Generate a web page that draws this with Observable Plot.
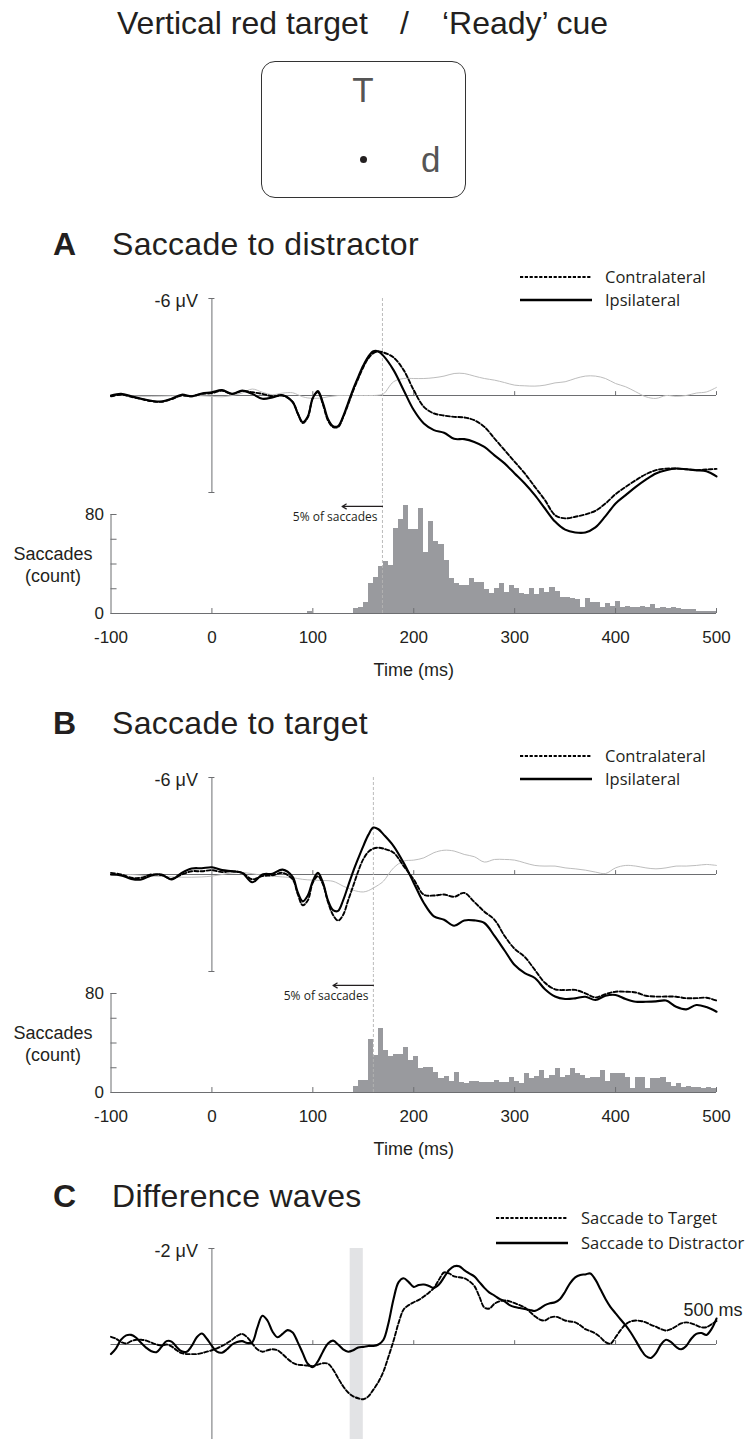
<!DOCTYPE html>
<html><head><meta charset="utf-8">
<script src="https://cdn.jsdelivr.net/npm/d3@7"></script>
<script src="https://cdn.jsdelivr.net/npm/@observablehq/plot@0.6"></script>
<style>
body{margin:0;background:#fff;overflow:hidden;}
#page{position:relative;width:750px;height:1439px;overflow:hidden;background:#fff;}
</style></head><body><div id="page"></div>
<script>
// ---------------- DATA ----------------
const xTicks = [-100, 0, 100, 200, 300, 400, 500];
const zeroAxisTicks = [100, 200, 300, 400, 500];
const countTicks = [0, 20, 40, 60, 80];
const countLabels = [0, 80];
const spanAB = 6, spanC = 2;
const fivePctA = 169, fivePctB = 160, arrowSpan = 40;
const bandC = [137, 150];
const legendAB = ["Contralateral", "Ipsilateral"];
const legendC = ["Saccade to Target", "Saccade to Distractor"];
const endLabelC = "500 ms";

const tWave = [-100,-90,-80,-70,-60,-50,-40,-30,-20,-10,0,10,20,30,40,50,60,70,80,
  85,90,95,100,105,110,115,120,125,130,135,140,145,150,155,160,165,170,
  180,190,200,210,220,230,240,250,260,270,280,290,300,310,320,330,340,350,360,370,380,390,400,410,420,430,440,450,460,470,480,490,500];

const ipsiA = [0,-0.1,0.05,0.2,0.33,0.37,0.2,-0.05,0.05,-0.12,-0.2,-0.33,-0.1,-0.3,-0.1,0.2,0.12,-0.02,0.4,
  1.1,1.65,1.3,0.15,-0.28,0.45,1.45,1.9,1.9,1.3,0.45,-0.4,-1.15,-1.85,-2.4,-2.74,-2.72,-2.45,
  -1.57,-0.33,0.9,1.73,2.14,2.3,2.68,2.7,2.87,3.18,3.7,4.2,4.82,5.44,6.16,6.99,7.8,8.3,8.47,8.47,8.16,7.46,6.68,6.16,5.65,5.2,4.82,4.62,4.52,4.56,4.62,4.68,5.0];
const contraA = [0.05,-0.05,0.08,0.22,0.35,0.39,0.22,0,0.05,-0.1,-0.15,-0.3,-0.1,-0.27,-0.2,-0.1,0.05,0,0.4,
  1.1,1.7,1.35,0.15,-0.2,0.55,1.55,1.95,1.95,1.35,0.55,-0.3,-1.05,-1.75,-2.3,-2.62,-2.72,-2.66,
  -2.35,-1.57,-0.33,0.7,1.11,1.24,1.32,1.36,1.53,1.94,2.66,3.38,4.1,4.82,5.65,6.47,7.4,7.6,7.5,7.36,7.13,6.68,6.1,5.65,5.24,4.87,4.62,4.52,4.52,4.56,4.62,4.58,4.54];
const grayA = [0,0,0.02,0.05,0.05,0.04,0.02,0,0,0.02,0.05,0.08,0,-0.15,-0.4,-0.2,-0.05,-0.15,-0.17,
  -0.05,0.08,0.15,0.18,0.17,0.14,0.08,0.04,0,0,0,0,0,0,0,0,-0.02,-0.1,
  -0.85,-1.05,-1.05,-1.05,-1.1,-1.2,-1.36,-1.36,-1.2,-1.05,-0.95,-0.8,-0.64,-0.6,-0.58,-0.64,-0.78,-0.85,-1.05,-1.2,-1.2,-1.05,-0.74,-0.54,-0.23,0.08,0.18,0,0.05,0,-0.15,-0.22,-0.5];

const ipsiB = [0,0.06,0.27,0.31,0.06,0,0.31,-0.1,-0.37,-0.39,-0.45,-0.27,-0.2,-0.1,0.48,0,-0.05,-0.3,0.15,
  1.1,1.66,1.3,0.4,-0.1,0.5,1.6,2.2,2.25,1.6,0.7,-0.2,-1.0,-1.76,-2.45,-2.9,-2.8,-2.48,
  -1.76,-0.72,0.52,1.76,2.59,2.8,3.17,2.84,2.84,3.0,3.8,4.7,5.6,6.1,6.4,7.1,7.55,7.7,7.66,7.56,7.76,7.5,7.45,7.7,7.87,7.87,7.85,7.8,8.18,8.34,8.07,8.2,8.49];
const contraB = [-0.1,0,0.2,0.2,0,0.04,0.27,0,-0.2,-0.2,-0.27,-0.15,-0.2,-0.1,0.3,0.1,0.05,-0.1,0.3,
  1.2,1.9,1.6,0.5,0.1,0.6,1.7,2.5,2.85,2.5,1.6,0.7,-0.2,-0.95,-1.4,-1.6,-1.66,-1.6,
  -1.35,-0.52,0.31,1.25,1.3,1.24,1.38,1.14,1.7,2.3,2.8,3.8,4.6,5.1,5.9,6.7,7.1,7.15,7.14,7.35,7.6,7.4,7.25,7.25,7.3,7.5,7.55,7.55,7.56,7.65,7.65,7.62,7.8];
const grayB = [0.05,0.03,0,0.05,0.1,0.12,0.15,0.17,0.17,0.15,0.1,0,-0.1,-0.12,-0.05,0.05,0.1,0.15,0.2,
  0.25,0.3,0.33,0.35,0.36,0.37,0.38,0.42,0.55,0.72,0.85,0.97,1.05,1.08,1.0,0.83,0.65,0.41,
  -0.41,-0.83,-0.89,-1.03,-1.35,-1.5,-1.45,-1.24,-1.1,-0.77,-0.93,-0.93,-0.89,-0.72,-0.56,-0.52,-0.52,-0.41,-0.35,-0.27,-0.15,-0.06,-0.41,-0.56,-0.52,-0.41,-0.35,-0.41,-0.52,-0.52,-0.56,-0.62,-0.56];

const binWidth = 5;
const binStarts = [95,140,145,150,155,160,165,170,175,180,185,190,195,200,205,210,215,220,225,230,235,240,
  245,250,255,260,265,270,275,280,285,290,295,300,305,310,315,320,325,330,335,340,345,350,355,360,365,370,
  375,380,385,390,395,400,405,410,415,420,425,430,435,440,445,450,455,460,465,470,475,480,485,490,495];
const countsA = [2,4,5,9,24,29,38,42,39,69,76,87,68,68,85,49,74,58,56,43,28,24,
  23,23,28,25,25,19,16,20,24,17,23,20,16,15,20,15,20,17,21,18,13,13,12,11,5,12,9,9,5,8,6,10,5,6,5,5,6,5,7,4,5,4,5,4,3,3,3,2,2,2,2];
const countsB = [0,5,10,10,43,30,52,34,29,31,31,36,26,29,19,20,20,16,11,13,9,16,
  8,7,9,9,8,8,8,10,8,8,12,9,7,15,11,13,18,11,14,19,12,14,19,15,14,11,12,12,18,9,15,15,15,12,3,12,12,3,11,11,12,8,5,7,4,5,4,4,3,4,3];

const tDiff = [-100,-95,-90,-85,-80,-75,-70,-65,-60,-55,-50,-45,-40,-35,-30,-25,-20,-15,-10,-5,
  0,5,10,15,20,25,30,35,40,45,50,55,60,65,70,75,80,85,90,95,100,105,110,115,120,125,130,135,140,145,
  150,155,160,165,170,175,180,185,190,195,200,205,210,215,220,225,230,235,240,245,250,255,260,265,270,275,280,285,290,295,
  300,305,310,315,320,325,330,335,340,345,350,355,360,365,370,375,380,385,390,395,400,405,410,415,420,425,430,435,440,445,
  450,455,460,465,470,475,480,485,490,495,500];
const diffDistractor = [0.2,0.08,-0.1,-0.19,-0.2,-0.14,-0.03,0.07,0.14,0.16,
  0.05,-0.07,-0.06,0.05,0.14,0.15,0.03,-0.15,-0.23,-0.12,
  0.03,0.15,0.17,0.1,0,-0.05,-0.07,-0.03,-0.05,-0.35,
  -0.6,-0.5,-0.27,-0.15,-0.22,-0.3,-0.25,-0.05,0.18,0.4,
  0.47,0.35,0.15,-0.02,-0.08,0,0.1,0.15,0.12,0.06,
  0.05,0.03,0.03,0,-0.1,-0.45,-0.95,-1.3,-1.38,-1.3,
  -1.2,-1.24,-1.25,-1.22,-1.18,-1.25,-1.4,-1.55,-1.63,-1.63,
  -1.55,-1.48,-1.42,-1.3,-1.18,-1.08,-1.02,-0.95,-0.9,-0.82,
  -0.78,-0.76,-0.74,-0.72,-0.7,-0.75,-0.82,-0.86,-0.88,-0.95,
  -1.1,-1.28,-1.4,-1.45,-1.46,-1.48,-1.35,-1.15,-0.95,-0.78,
  -0.65,-0.52,-0.4,-0.25,-0.08,0.1,0.24,0.28,0.18,0,
  -0.1,-0.05,0.05,0.1,0.03,-0.12,-0.22,-0.24,-0.2,-0.32,
  -0.54];
const diffTarget = [-0.16,-0.12,-0.05,-0.02,-0.07,-0.1,-0.1,-0.08,-0.04,0,
  0.02,0,0.04,0.12,0.18,0.2,0.2,0.2,0.18,0.15,
  0.12,0.08,0.03,-0.03,-0.1,-0.18,-0.22,-0.15,-0.02,0.1,
  0.15,0.12,0.1,0.12,0.2,0.3,0.38,0.42,0.43,0.44,
  0.45,0.42,0.39,0.4,0.52,0.7,0.87,1.0,1.08,1.12,
  1.14,1.08,0.94,0.78,0.56,0.25,-0.08,-0.45,-0.73,-0.82,
  -0.88,-0.93,-1.0,-1.08,-1.18,-1.35,-1.5,-1.48,-1.42,-1.4,
  -1.38,-1.32,-1.22,-1.0,-0.77,-0.75,-0.85,-0.9,-0.92,-0.9,
  -0.86,-0.82,-0.77,-0.68,-0.59,-0.52,-0.5,-0.56,-0.58,-0.55,
  -0.5,-0.48,-0.46,-0.4,-0.32,-0.28,-0.23,-0.15,-0.05,-0.02,
  -0.15,-0.3,-0.42,-0.48,-0.5,-0.49,-0.46,-0.41,-0.37,-0.32,
  -0.29,-0.32,-0.38,-0.44,-0.46,-0.44,-0.4,-0.36,-0.36,-0.42,
  -0.49];

// ---------------- STYLE / LAYOUT ----------------
const FONT = "'Liberation Sans', Arial, Helvetica, sans-serif";
const LEGFONT = "'Open Sans', 'Noto Sans', sans-serif";
const INK = "#231f20";
const AXIS = "#6d6e71";
const page = document.getElementById("page");
const xDomain = [xTicks[0], xTicks[xTicks.length - 1]];
const M = {marginLeft: 110.5, marginRight: 34};
const STYLE = {background: "transparent", overflow: "visible", fontFamily: FONT, color: INK};

function place(node, top) {
  const d = document.createElement("div");
  d.style.cssText = `position:absolute;left:0;top:${top}px;`;
  d.appendChild(node);
  page.appendChild(d);
}
function label(text, left, cy, size, opts = {}) {
  const s = document.createElement("div");
  s.textContent = text;
  s.style.cssText = `position:absolute;left:${left}px;top:${cy - size / 2}px;font-size:${size}px;line-height:${size}px;white-space:pre;font-family:${opts.family || FONT};font-weight:${opts.weight || 400};color:${opts.color || INK};letter-spacing:${opts.ls || 0}px;`;
  page.appendChild(s);
  return s;
}
function legendRow(x1, x2, y, dashed, text, textX) {
  const ns = "http://www.w3.org/2000/svg";
  const svg = document.createElementNS(ns, "svg");
  svg.setAttribute("width", x2 - x1); svg.setAttribute("height", 6);
  svg.style.cssText = `position:absolute;left:${x1}px;top:${y - 3}px;overflow:visible`;
  const l = document.createElementNS(ns, "line");
  l.setAttribute("x1", 0); l.setAttribute("x2", x2 - x1); l.setAttribute("y1", 3); l.setAttribute("y2", 3);
  l.setAttribute("stroke", "#000");
  l.setAttribute("stroke-width", dashed ? 1.9 : 2.3);
  if (dashed) l.setAttribute("stroke-dasharray", "3.2,1.6");
  svg.appendChild(l);
  page.appendChild(svg);
  label(text, textX, y, 16.5, {family: LEGFONT});
}
const tbl = (t, vals) => t.map((x, i) => ({t: x, v: vals[i]}));

function wavePlot({t, solid, dashed, gray, span, fivePct, band, endLabel, top, innerH, mBottom}) {
  const mTop = 20;
  const marks = [];
  if (band) marks.push(Plot.rect([band], {x1: d => d[0], x2: d => d[1], y1: -span, y2: span, fill: "#e2e3e5"}));
  marks.push(Plot.ruleY([0], {x1: xDomain[0], x2: xDomain[1], stroke: AXIS, strokeWidth: 1}));
  marks.push(Plot.ruleX(zeroAxisTicks, {y1: 0, y2: -span * 0.04, stroke: AXIS}));
  marks.push(Plot.ruleX([0], {y1: -span, y2: span, stroke: AXIS}));
  marks.push(Plot.ruleY(band ? [-span] : [-span, span], {x1: -3, x2: 3, stroke: AXIS}));
  marks.push(Plot.text([-span], {x: 0, y: d => d, text: d => `${d} μV`, dx: -14, dy: 3, textAnchor: "end", fontSize: 18, fill: INK}));
  if (fivePct != null) marks.push(Plot.ruleX([fivePct], {y1: -span, y2: span, stroke: "#b3b3b3", strokeDasharray: "3,2", strokeWidth: 0.9}));
  if (gray) marks.push(Plot.line(tbl(t, gray), {x: "t", y: "v", curve: "catmull-rom", stroke: "#bdbdbd", strokeWidth: 1}));
  marks.push(Plot.line(tbl(t, dashed), {x: "t", y: "v", curve: "catmull-rom", stroke: "#000", strokeWidth: 1.9, strokeDasharray: "4,2.2"}));
  marks.push(Plot.line(tbl(t, solid), {x: "t", y: "v", curve: "catmull-rom", stroke: "#000", strokeWidth: 2.1}));
  if (endLabel) marks.push(Plot.text([endLabel], {x: xDomain[1], y: 0, dx: -33, dy: -34, textAnchor: "start", fontSize: 18, fill: INK}));
  const p = Plot.plot({
    width: 750, height: mTop + innerH + mBottom, ...M, marginTop: mTop, marginBottom: mBottom,
    x: {domain: xDomain, axis: null}, y: {domain: [-span, span], reverse: true, axis: null},
    style: STYLE, marks
  });
  place(p, top);
}

function histPlot({counts, fivePct, top}) {
  const data = binStarts.map((s, i) => ({s, e: s + binWidth, c: counts[i]})).filter(d => d.c > 0);
  const yTop = countTicks[countTicks.length - 1];
  const p = Plot.plot({
    width: 750, height: 190, ...M, marginTop: 14, marginBottom: 77,
    x: {domain: xDomain, axis: null}, y: {domain: [0, yTop], axis: null},
    style: STYLE,
    marks: [
      Plot.rect(data, {x1: "s", x2: "e", y1: 0, y2: "c", fill: "#999a9e", shapeRendering: "crispEdges"}),
      Plot.ruleX([fivePct], {y1: 0, y2: 98, stroke: "#b3b3b3", strokeDasharray: "3,2", strokeWidth: 0.9}),
      Plot.ruleX([xDomain[0]], {y1: 0, y2: yTop, stroke: AXIS}),
      Plot.ruleY(countTicks, {x1: xDomain[0], x2: xDomain[0] + 6, stroke: AXIS}),
      Plot.ruleY([0], {x1: xDomain[0], x2: xDomain[1], stroke: AXIS}),
      Plot.ruleX(xTicks.slice(1), {y1: 0, y2: 4, stroke: AXIS}),
      Plot.text(countLabels, {x: xDomain[0], y: d => d, text: d => String(d), dx: -7, textAnchor: "end", fontSize: 17, fill: INK}),
      Plot.text(xTicks, {x: d => d, y: 0, text: d => String(d), dy: 24, fontSize: 17, fill: INK}),
      Plot.text(["Time (ms)"], {x: (xDomain[0] + xDomain[1]) / 2, y: 0, dy: 57, fontSize: 18, fill: INK}),
      Plot.text(["Saccades\n(count)"], {x: xDomain[0], y: yTop / 2, dx: -58, fontSize: 18, lineHeight: 1.22, fill: INK}),
      Plot.arrow([fivePct], {x1: d => d, x2: d => d - arrowSpan, y1: 86.5, y2: 86.5, stroke: INK, strokeWidth: 1.2, headLength: 6}),
      Plot.text(["5% of saccades"], {x: fivePct, y: 78, dx: -5, textAnchor: "end", fontSize: 12, fontFamily: LEGFONT, fill: INK})
    ]
  });
  place(p, top);
}

// ---------------- HEADER / DIAGRAM ----------------
const TSIZE = 32;
label("Vertical red target", 117, 23.2, TSIZE);
label("/", 400, 23.2, TSIZE);
label("\u2018Ready\u2019 cue", 442, 23.2, TSIZE);
const box = document.createElement("div");
box.style.cssText = "position:absolute;left:261px;top:61px;width:205px;height:137px;box-sizing:border-box;border:1.3px solid #333;border-radius:14px;";
page.appendChild(box);
label("T", 352.3, 72.4 + 17.5, 35, {color: "#555"});
label("d", 421, 142.4 + 17.5, 35, {color: "#555"});
const dot = document.createElement("div");
dot.style.cssText = "position:absolute;left:359.5px;top:155.5px;width:7px;height:7px;border-radius:50%;background:#231f20;";
page.appendChild(dot);

// ---------------- PANEL A ----------------
label("A", 53, 243.9, TSIZE, {weight: 700});
label("Saccade to distractor", 112, 243.9, TSIZE, {ls: 0.3});
legendRow(520, 592, 277, true, legendAB[0], 605);
legendRow(520, 592, 300, false, legendAB[1], 605);
histPlot({counts: countsA, fivePct: fivePctA, top: 500});
wavePlot({t: tWave, solid: ipsiA, dashed: contraA, gray: grayA, span: spanAB, fivePct: fivePctA, top: 278, innerH: 194, mBottom: 20});

// ---------------- PANEL B ----------------
label("B", 53, 722.9, TSIZE, {weight: 700});
label("Saccade to target", 112, 722.9, TSIZE, {ls: 0.3});
legendRow(520, 592, 756, true, legendAB[0], 605);
legendRow(520, 592, 779, false, legendAB[1], 605);
histPlot({counts: countsB, fivePct: fivePctB, top: 979});
wavePlot({t: tWave, solid: ipsiB, dashed: contraB, gray: grayB, span: spanAB, fivePct: fivePctB, top: 757, innerH: 194, mBottom: 20});

// ---------------- PANEL C ----------------
label("C", 53, 1195.6, TSIZE, {weight: 700});
label("Difference waves", 112, 1195.6, TSIZE, {ls: 0.3});
legendRow(496, 568, 1218, true, legendC[0], 581);
legendRow(496, 568, 1243, false, legendC[1], 581);
wavePlot({t: tDiff, solid: diffDistractor, dashed: diffTarget, span: spanC, band: bandC, endLabel: endLabelC, top: 1228, innerH: 192, mBottom: 10});
</script></body></html>
